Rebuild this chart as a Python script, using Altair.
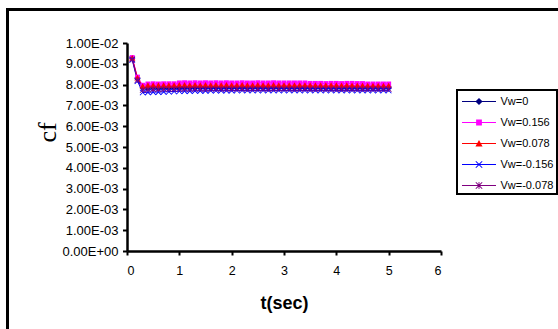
import altair as alt
import pandas as pd

# ---------------- data ----------------
t = [0.1, 0.2, 0.3, 0.4, 0.5, 0.6, 0.7, 0.8, 0.9, 1.0,
     1.1, 1.2, 1.3, 1.4, 1.5, 1.6, 1.7, 1.8, 1.9, 2.0,
     2.1, 2.2, 2.3, 2.4, 2.5, 2.6, 2.7, 2.8, 2.9, 3.0,
     3.1, 3.2, 3.3, 3.4, 3.5, 3.6, 3.7, 3.8, 3.9, 4.0,
     4.1, 4.2, 4.3, 4.4, 4.5, 4.6, 4.7, 4.8, 4.9, 5.0]

series_names = ["Vw=0", "Vw=0.156", "Vw=0.078", "Vw=-0.156", "Vw=-0.078"]

# cf values in units of 1E-03
cf_vw0 = [9.25, 8.28, 7.86, 7.84, 7.85, 7.84, 7.85, 7.84, 7.85, 7.84,
          7.85, 7.85, 7.84, 7.85, 7.85, 7.84, 7.85, 7.84, 7.85, 7.85,
          7.84, 7.85, 7.84, 7.85, 7.84, 7.85, 7.84, 7.85, 7.84, 7.85,
          7.84, 7.85, 7.84, 7.84, 7.84, 7.85, 7.84, 7.84, 7.85, 7.84,
          7.84, 7.84, 7.85, 7.84, 7.84, 7.84, 7.84, 7.84, 7.84, 7.84]
cf_vw_p156 = [9.30, 8.36, 7.97, 8.03, 8.04, 8.03, 8.04, 8.04, 8.04, 8.08,
              8.09, 8.08, 8.09, 8.08, 8.09, 8.08, 8.09, 8.08, 8.09, 8.08,
              8.08, 8.09, 8.08, 8.08, 8.09, 8.08, 8.08, 8.09, 8.08, 8.08,
              8.08, 8.08, 8.08, 8.08, 8.06, 8.06, 8.06, 8.05, 8.06, 8.06,
              8.05, 8.06, 8.06, 8.05, 8.05, 8.03, 8.03, 8.03, 8.03, 8.03]
cf_vw_p078 = [9.27, 8.32, 7.92, 7.96, 7.97, 7.96, 7.97, 7.96, 7.97, 7.98,
              7.98, 7.97, 7.98, 7.97, 7.98, 7.97, 7.98, 7.97, 7.98, 7.97,
              7.97, 7.98, 7.97, 7.97, 7.98, 7.97, 7.97, 7.98, 7.97, 7.97,
              7.97, 7.97, 7.97, 7.97, 7.96, 7.96, 7.96, 7.96, 7.96, 7.96,
              7.95, 7.96, 7.95, 7.95, 7.95, 7.94, 7.94, 7.94, 7.94, 7.94]
cf_vw_m156 = [9.19, 8.17, 7.62, 7.63, 7.64, 7.64, 7.65, 7.66, 7.67, 7.68,
              7.69, 7.69, 7.70, 7.70, 7.70, 7.71, 7.71, 7.71, 7.71, 7.71,
              7.72, 7.72, 7.72, 7.72, 7.72, 7.72, 7.72, 7.72, 7.72, 7.72,
              7.72, 7.72, 7.72, 7.72, 7.72, 7.72, 7.72, 7.72, 7.72, 7.72,
              7.72, 7.72, 7.72, 7.72, 7.72, 7.72, 7.72, 7.72, 7.72, 7.72]
cf_vw_m078 = [9.22, 8.22, 7.74, 7.77, 7.78, 7.78, 7.79, 7.79, 7.79, 7.79,
              7.80, 7.79, 7.80, 7.80, 7.79, 7.80, 7.80, 7.79, 7.80, 7.80,
              7.80, 7.80, 7.79, 7.80, 7.80, 7.80, 7.79, 7.80, 7.80, 7.80,
              7.80, 7.79, 7.80, 7.80, 7.79, 7.79, 7.80, 7.79, 7.79, 7.79,
              7.79, 7.79, 7.79, 7.79, 7.79, 7.79, 7.79, 7.79, 7.79, 7.79]

x_ticks = [0, 1, 2, 3, 4, 5, 6]
y_ticks = [0.0, 0.001, 0.002, 0.003, 0.004, 0.005, 0.006, 0.007, 0.008, 0.009, 0.01]

# ---------------- styles ----------------
colors = ["#000080", "#FF00FF", "#FF0000", "#0000FF", "#800080"]

plot_shapes = [
    "M0,-1L1,0L0,1L-1,0Z",
    "M-0.8,-0.8H0.8V0.8H-0.8Z",
    "M0,-1L1,0.8H-1Z",
    "M0,-0.2L0.8,-1L1,-0.8L0.2,0L1,0.8L0.8,1L0,0.2L-0.8,1L-1,0.8L-0.2,0L-1,-0.8L-0.8,-1Z",
    "M0,-0.2L0.8,-1L1,-0.8L0.2,0L1,0.8L0.8,1L0,0.2L-0.8,1L-1,0.8L-0.2,0L-1,-0.8L-0.8,-1Z"
    "M-0.12,-1H0.12V1H-0.12Z",
]

LN = "M-2,-0.06H2V0.06H-2Z"
legend_shapes = [
    LN + "M0,-0.42L0.42,0L0,0.42L-0.42,0Z",
    LN + "M-0.34,-0.34H0.34V0.34H-0.34Z",
    LN + "M0,-0.42L0.42,0.34H-0.42Z",
    LN + "M0,-0.08L0.34,-0.42L0.42,-0.34L0.08,0L0.42,0.34L0.34,0.42L0,0.08L-0.34,0.42L-0.42,0.34L-0.08,0L-0.42,-0.34L-0.34,-0.42Z",
    LN + "M0,-0.08L0.34,-0.42L0.42,-0.34L0.08,0L0.42,0.34L0.34,0.42L0,0.08L-0.34,0.42L-0.42,0.34L-0.08,0L-0.42,-0.34L-0.34,-0.42Z"
    "M-0.05,-0.42H0.05V0.42H-0.05Z",
]

# ---------------- table ----------------
all_series = [cf_vw0, cf_vw_p156, cf_vw_p078, cf_vw_m156, cf_vw_m078]
rows = []
for order, (name, vals) in enumerate(zip(series_names, all_series)):
    for tt, v in zip(t, vals):
        rows.append({"t": tt, "cf": v * 1e-3, "series": name, "order": order})
df = pd.DataFrame(rows)

FONT = "Liberation Sans"

x_enc = alt.X("t:Q", scale=alt.Scale(domain=[0, 6], nice=False),
              axis=alt.Axis(values=x_ticks, title="t(sec)", grid=False,
                            domainColor="black", domainWidth=2.5,
                            tickColor="black", tickWidth=2, tickSize=4,
                            labelFont=FONT, labelFontSize=12.5, labelColor="black",
                            labelPadding=9,
                            titleFont=FONT, titleFontSize=18, titleFontWeight="bold",
                            titleColor="black", titleBaseline="middle", titleY=52))
y_enc = alt.Y("cf:Q", scale=alt.Scale(domain=[0, 0.01], nice=False),
              axis=alt.Axis(values=y_ticks, title="cf", grid=False,
                            labelExpr="datum.value == 0 ? '0.00E+00' : (datum.value > 0.0095 ? '1.00E-02' : format(datum.value * 1000, '.2f') + 'E-03')",
                            domainColor="black", domainWidth=2.5,
                            tickColor="black", tickWidth=2, tickSize=4.5,
                            labelFont=FONT, labelFontSize=13, labelColor="black",
                            labelPadding=4.5,
                            titleFont="Liberation Serif", titleFontSize=26,
                            titleFontWeight="normal", titleColor="black",
                            titleAngle=270, titleAlign="center", titleBaseline="middle",
                            titleX=-80, titleY=89))

color_scale = alt.Scale(domain=series_names, range=colors)

base = alt.Chart(df)

lines = base.mark_line(strokeWidth=1).encode(
    x=x_enc, y=y_enc,
    color=alt.Color("series:N", scale=color_scale, legend=None),
    detail="series:N",
    order="t:Q",
)

points = base.mark_point(filled=True, size=38, opacity=1).encode(
    x=x_enc, y=y_enc,
    color=alt.Color("series:N", scale=color_scale, legend=None),
    shape=alt.Shape("series:N", scale=alt.Scale(domain=series_names, range=plot_shapes), legend=None),
    order="order:Q",
)

leg = alt.Legend(orient="none", legendX=330, legendY=47, title=None,
                 padding=3, symbolSize=289, symbolOffset=10.5, labelOffset=13,
                 rowPadding=7, labelFont=FONT, labelFontSize=11, labelColor="black",
                 strokeColor="black", fillColor="white", symbolStrokeWidth=0,
                 cornerRadius=0)

legend_layer = base.transform_filter("datum.t < 0").mark_point(filled=True, opacity=1).encode(
    x=x_enc, y=y_enc,
    color=alt.Color("series:N", scale=color_scale, legend=leg),
    shape=alt.Shape("series:N", scale=alt.Scale(domain=series_names, range=legend_shapes), legend=leg),
)

frame_df = pd.DataFrame({"k": [0]})
frame_top = alt.Chart(frame_df).mark_rule(color="black", strokeWidth=3).encode(
    x=alt.value(-120), x2=alt.value(450), y=alt.value(-33.5))
frame_left = alt.Chart(frame_df).mark_rule(color="black", strokeWidth=3).encode(
    x=alt.value(-119.5), y=alt.value(-35), y2=alt.value(300))

chart = alt.layer(frame_top, frame_left, lines, points, legend_layer).resolve_scale(
    color="independent", shape="independent"
).properties(
    width=314, height=208,
    autosize=alt.AutoSizeParams(type="none"),
    padding={"left": 127, "top": 43, "right": 117, "bottom": 78},
    background="white",
).configure_view(stroke=None).configure_legend(strokeWidth=2)

chart.save("out.html", embed_options={"renderer": "svg", "actions": False})
